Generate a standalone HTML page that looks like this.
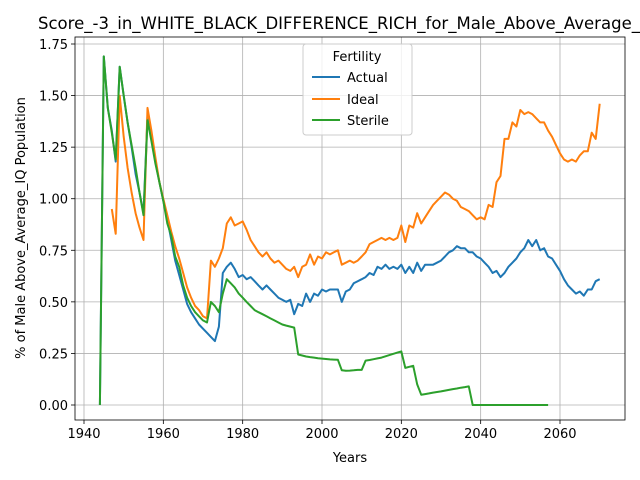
<!DOCTYPE html>
<html><head><meta charset="utf-8"><style>body{margin:0;background:#fff}svg{display:block;font-family:"DejaVu Sans","Liberation Sans",sans-serif}</style></head>
<body>
<svg id="chart" width="640" height="480" viewBox="0 0 640 480">
<rect width="640" height="480" fill="#fff"/>
<text x="38" y="29" font-size="17" text-anchor="start"><tspan textLength="602" lengthAdjust="spacingAndGlyphs">Score_-3_in_WHITE_BLACK_DIFFERENCE_RICH_for_Male_Above_Average_</tspan><tspan>IQ</tspan></text>
<g id="grid"></g><g id="series"></g><g id="axes"></g>
<text x="350" y="462" font-size="13" text-anchor="middle">Years</text>
<text transform="translate(25,228) rotate(-90)" font-size="13" text-anchor="middle">% of Male Above_Average_IQ Population</text>
<g>
<rect x="303" y="44" width="109" height="91" rx="3" fill="#fff" fill-opacity="0.8" stroke="#ccc"/>
<text x="357" y="61" font-size="13" text-anchor="middle">Fertility</text>
<line x1="312" y1="77" x2="340" y2="77" stroke="#1f77b4" stroke-width="2"/><text x="347" y="82" font-size="13">Actual</text>
<line x1="312" y1="99" x2="340" y2="99" stroke="#ff7f0e" stroke-width="2"/><text x="347" y="104" font-size="13">Ideal</text>
<line x1="312" y1="120" x2="340" y2="120" stroke="#2ca02c" stroke-width="2"/><text x="347" y="125" font-size="13">Sterile</text>
</g>
</svg>
<script>
const xTicks=[1940,1960,1980,2000,2020,2040,2060];
const yTicks=[0,0.25,0.5,0.75,1.0,1.25,1.5,1.75];
const yTickLabels=["0.00","0.25","0.50","0.75","1.00","1.25","1.50","1.75"];
const actualStart=1944;
const actualValues=[0,1.69,1.44,1.33,1.18,1.64,1.5,1.37,1.25,1.12,1.03,0.93,1.40,1.30,1.18,1.08,0.99,0.90,0.80,0.70,0.63,0.56,0.49,0.45,0.42,0.39,0.37,0.35,0.33,0.31,0.38,0.64,0.67,0.69,0.66,0.62,0.63,0.61,0.62,0.60,0.58,0.56,0.58,0.56,0.54,0.52,0.51,0.50,0.51,0.44,0.49,0.48,0.54,0.50,0.54,0.53,0.56,0.55,0.56,0.56,0.56,0.50,0.55,0.56,0.59,0.60,0.61,0.62,0.64,0.63,0.67,0.66,0.68,0.66,0.67,0.66,0.68,0.64,0.67,0.64,0.69,0.65,0.68,0.68,0.68,0.69,0.70,0.72,0.74,0.75,0.77,0.76,0.76,0.74,0.74,0.72,0.71,0.69,0.67,0.64,0.65,0.62,0.64,0.67,0.69,0.71,0.74,0.76,0.80,0.77,0.80,0.75,0.76,0.72,0.71,0.68,0.65,0.61,0.58,0.56,0.54,0.55,0.53,0.56,0.56,0.60,0.61];
const idealStart=1947;
const idealValues=[0.95,0.83,1.50,1.30,1.15,1.03,0.93,0.86,0.80,1.44,1.33,1.20,1.08,1.0,0.92,0.84,0.77,0.71,0.64,0.57,0.52,0.48,0.46,0.43,0.42,0.70,0.67,0.71,0.76,0.88,0.91,0.87,0.88,0.89,0.85,0.80,0.77,0.74,0.72,0.74,0.71,0.69,0.70,0.68,0.66,0.65,0.67,0.62,0.67,0.68,0.73,0.68,0.72,0.71,0.74,0.73,0.74,0.75,0.68,0.69,0.70,0.69,0.70,0.72,0.74,0.78,0.79,0.80,0.81,0.80,0.81,0.80,0.81,0.87,0.79,0.87,0.86,0.93,0.88,0.91,0.94,0.97,0.99,1.01,1.03,1.02,1.00,0.99,0.96,0.95,0.94,0.92,0.90,0.91,0.90,0.97,0.96,1.08,1.11,1.29,1.29,1.37,1.35,1.43,1.41,1.42,1.41,1.39,1.37,1.37,1.33,1.30,1.26,1.22,1.19,1.18,1.19,1.18,1.21,1.23,1.23,1.32,1.29,1.46];
const sterileStart=1944;
const sterileValues=[0,1.69,1.44,1.32,1.19,1.64,1.50,1.37,1.26,1.15,1.03,0.92,1.38,1.28,1.17,1.08,0.99,0.88,0.82,0.72,0.67,0.58,0.52,0.48,0.45,0.43,0.41,0.40,0.50,0.48,0.45,0.54,0.61,0.59,0.57,0.54,0.52,0.50,0.48,0.46,0.45,0.44,0.43,0.42,0.41,0.40,0.39,0.385,0.38,0.375,0.245,0.24,0.235,0.232,0.23,0.227,0.225,0.223,0.221,0.22,0.219,0.168,0.166,0.167,0.168,0.17,0.17,0.215,0.218,0.222,0.226,0.23,0.236,0.242,0.248,0.254,0.26,0.18,0.185,0.19,0.10,0.05,0.053,0.056,0.06,0.063,0.066,0.07,0.073,0.077,0.08,0.084,0.087,0.09,0,0,0,0,0,0,0,0,0,0,0,0,0,0,0,0,0,0,0,0];
const L=75,R=625,T=37,B=420;
function X(yr){return 84+(yr-1940)*(560-84)/120;}
function Y(v){return 405-v*(405-44)/1.75;}
const NS="http://www.w3.org/2000/svg";
function mk(tag,attrs,parent){const e=document.createElementNS(NS,tag);for(const k in attrs)e.setAttribute(k,attrs[k]);parent.appendChild(e);return e;}
const grid=document.getElementById('grid'),axes=document.getElementById('axes'),series=document.getElementById('series');
xTicks.forEach(t=>{const x=X(t);
 const g=mk('line',{x1:x,x2:x,y1:T,y2:B,stroke:'#b0b0b0','stroke-width':0.8},grid);
 
 
 mk('line',{x1:x,x2:x,y1:B,y2:B+4,stroke:'#000','stroke-width':0.8},axes);
 const tx=mk('text',{x:x,y:B+18,'font-size':13,'text-anchor':'middle'},axes);tx.textContent=t;
 
 });
yTicks.forEach((t,i)=>{const y=Y(t);
 const g=mk('line',{x1:L,x2:R,y1:y,y2:y,stroke:'#b0b0b0','stroke-width':0.8},grid);
 
 
 mk('line',{x1:L-4,x2:L,y1:y,y2:y,stroke:'#000','stroke-width':0.8},axes);
 const tx=mk('text',{x:L-7,y:y+5,'font-size':13,'text-anchor':'end'},axes);tx.textContent=yTickLabels[i];
 
 });
const frame=mk('rect',{x:L,y:T,width:R-L,height:B-T,fill:'none',stroke:'#000','stroke-width':0.8},axes);


function draw(start,vals,color,name){const pts=vals.map((v,i)=>X(start+i).toFixed(1)+','+Y(v).toFixed(1)).join(' ');
 const p=mk('polyline',{points:pts,fill:'none',stroke:color,'stroke-width':2,'stroke-linejoin':'round'},series);
 
 }
draw(actualStart,actualValues,'#1f77b4','actual-line');
draw(idealStart,idealValues,'#ff7f0e','ideal-line');
draw(sterileStart,sterileValues,'#2ca02c','sterile-line');
</script>
</body></html>
